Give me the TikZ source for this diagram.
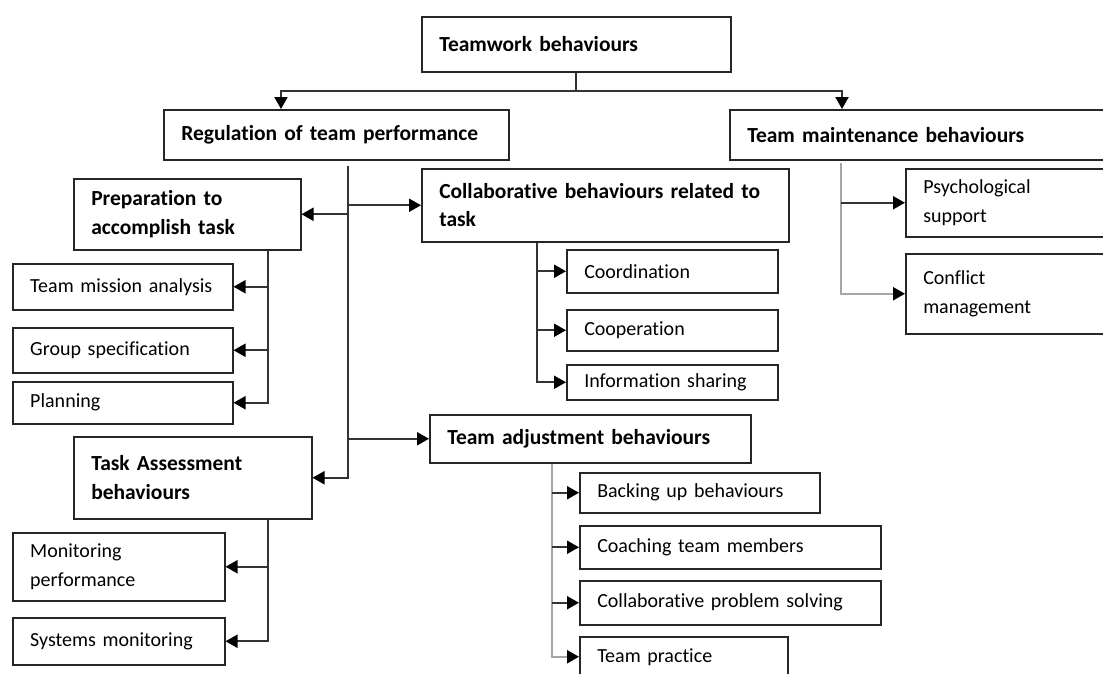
\documentclass[tikz,border=0pt]{standalone}
\usepackage{fontspec}
\setmainfont{Carlito}[Ligatures=NoCommon, WordSpace=0.8]
\usetikzlibrary{arrows.meta}

\begin{document}
\begin{tikzpicture}[x=1pt, y=-1pt,
    box/.style={draw=black!85, line width=1.5pt, rectangle, anchor=north west,
      inner xsep=17.5pt, inner ysep=0pt, align=left,
      font=\fontsize{20}{28.5}\selectfont},
    head/.style={box, font=\fontsize{21.5}{28.5}\selectfont\bfseries},
    link/.style={line width=2pt, black!80},
    soft/.style={line width=2.2pt, black!35},
    arr/.style={-{Triangle[length=12pt, width=13pt, color=black]}}]
    \useasboundingbox (0,0) rectangle (1103,673);

    % top levels
    \node [head, text width=274pt, minimum height=55pt] (team) at (421,16) {Teamwork behaviours};
    \node [head, text width=310pt, minimum height=50pt] (reg) at (163,109) {Regulation of team performance};
    \node [head, text width=351pt, minimum height=50pt] (maint) at (729,109) {Team maintenance behaviours};

    % regulation branch
    \node [head, text width=192pt, minimum height=71pt] (prep) at (73,178) {Preparation to\\accomplish task};
    \node [head, text width=332pt, minimum height=73pt] (collab) at (421,168) {Collaborative behaviours related to\\task};
    \node [head, text width=203pt, minimum height=82pt] (task) at (73,436) {Task Assessment\\behaviours};
    \node [head, text width=286pt, minimum height=48pt] (adj) at (429,414) {Team adjustment behaviours};

    % leaves
    \node [box, text width=185pt, minimum height=46pt] (mission) at (12,263) {Team mission analysis};
    \node [box, text width=185pt, minimum height=45pt] (group) at (12,327) {Group specification};
    \node [box, text width=185pt, minimum height=42pt] (plan) at (12,381) {Planning};
    \node [box, text width=177pt, minimum height=68pt] (monitor) at (12,532) {Monitoring\\performance};
    \node [box, text width=177pt, minimum height=47pt] (systems) at (12,617) {Systems monitoring};

    \node [box, text width=176pt, minimum height=43pt] (coord) at (566,249) {Coordination};
    \node [box, text width=176pt, minimum height=41pt] (coop) at (566,309) {Cooperation};
    \node [box, text width=176pt, minimum height=35pt] (info) at (566,364) {Information sharing};

    \node [box, text width=205pt, minimum height=40pt] (backup) at (579,472) {Backing up behaviours};
    \node [box, text width=266pt, minimum height=43pt] (coach) at (579,525) {Coaching team members};
    \node [box, text width=266pt, minimum height=44pt] (solve) at (579,580) {Collaborative problem solving};
    \node [box, text width=173pt, minimum height=40pt] (practice) at (579,636) {Team practice};

    \node [box, text width=175pt, minimum height=68pt] (psych) at (905,168) {Psychological\\support};
    \node [box, text width=175pt, minimum height=80pt] (conflict) at (905,253) {Conflict\\management};

    % connectors
    \coordinate (split) at (team.south |- 0,91);
    \draw [link] (team.south) -- (split);
    \draw [link, arr] (split) -| ([xshift=118pt]reg.north west);
    \draw [link, arr] (split) -| ([xshift=113pt]maint.north west);

    \coordinate (regtrunk) at (348,166);
    \draw [link, arr] (regtrunk) |- (task.east);
    \draw [link, arr] (regtrunk |- prep.east) -- (prep.east);
    \draw [link, arr] (regtrunk |- collab.west) -- (collab.west);
    \draw [link, arr] (regtrunk |- adj.west) -- (adj.west);

    \coordinate (preptrunk) at ([xshift=-34pt]prep.south east);
    \draw [link, arr] (preptrunk) |- (plan.east);
    \draw [link, arr] (preptrunk |- mission.east) -- (mission.east);
    \draw [link, arr] (preptrunk |- group.east) -- (group.east);

    \coordinate (tasktrunk) at ([xshift=-45pt]task.south east);
    \draw [link, arr] (tasktrunk) |- (systems.east);
    \draw [link, arr] (tasktrunk |- monitor.east) -- (monitor.east);

    \coordinate (collabtrunk) at ([xshift=116pt]collab.south west);
    \draw [link, arr] (collabtrunk) |- (info.west);
    \draw [link, arr] (collabtrunk |- coord.west) -- (coord.west);
    \draw [link, arr] (collabtrunk |- coop.west) -- (coop.west);

    \coordinate (adjtrunk) at ([xshift=123pt]adj.south west);
    \draw [soft, arr] (adjtrunk) |- (practice.west);
    \draw [link, arr] (adjtrunk |- backup.west) -- (backup.west);
    \draw [link, arr] (adjtrunk |- coach.west) -- (coach.west);
    \draw [link, arr] (adjtrunk |- solve.west) -- (solve.west);

    \coordinate (mainttrunk) at (841,163);
    \draw [soft, arr] (mainttrunk) |- (conflict.west);
    \draw [link, arr] (mainttrunk |- psych.west) -- (psych.west);
\end{tikzpicture}
\end{document}
